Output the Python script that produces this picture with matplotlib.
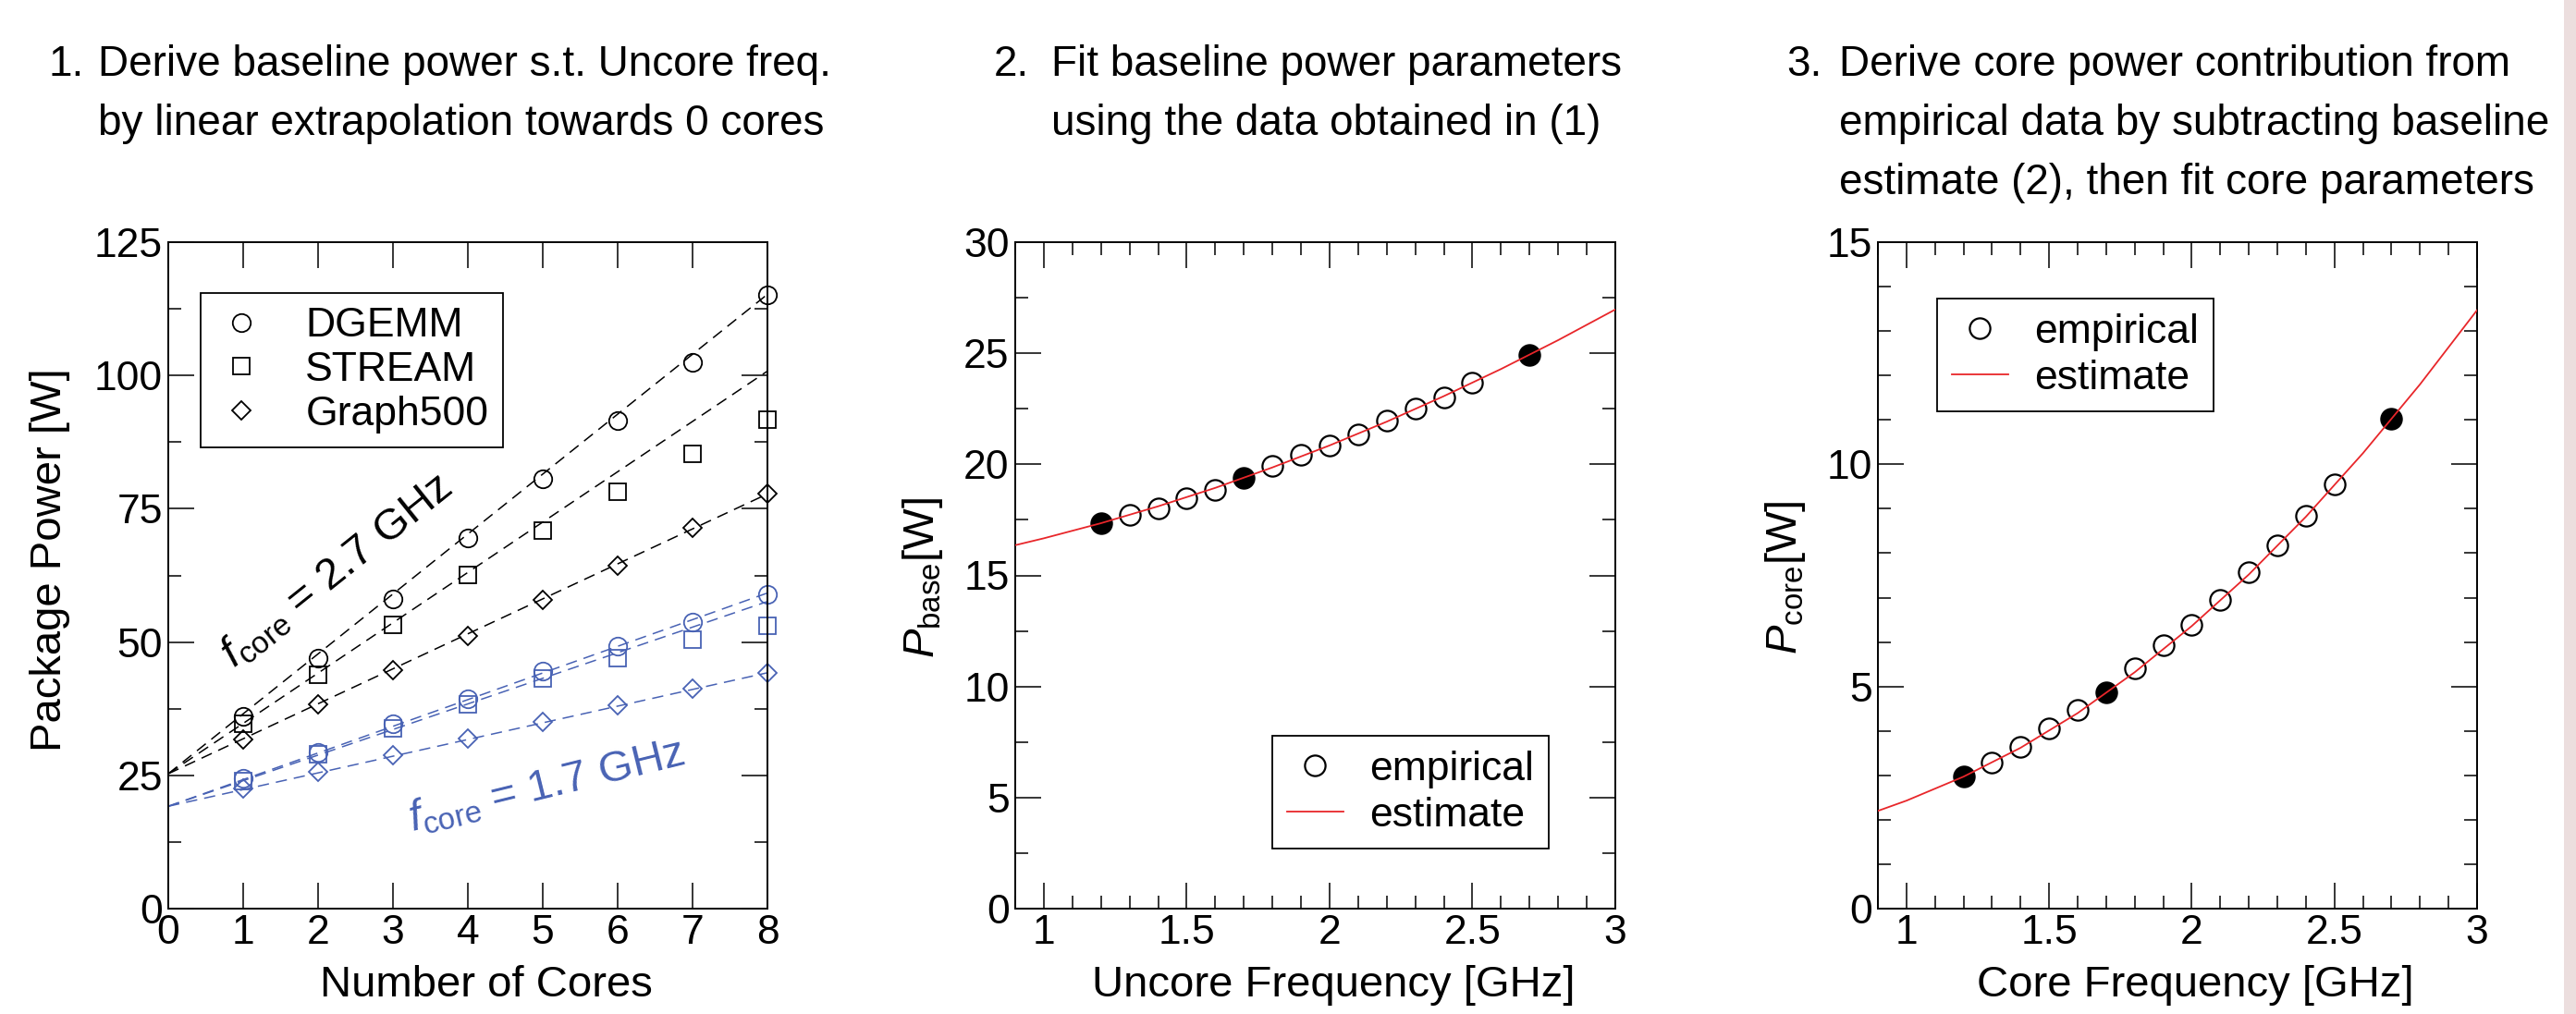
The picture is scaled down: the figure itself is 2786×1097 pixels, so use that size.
import matplotlib
matplotlib.use('Agg')
import matplotlib.pyplot as plt
from matplotlib.patches import FancyBboxPatch
from matplotlib.transforms import IdentityTransform
from matplotlib.ticker import MultipleLocator

W, H = 2786, 1097

# ---- panel 1: package power vs number of cores ----
cores = [1, 2, 3, 4, 5, 6, 7, 8]
dgemm_27 = [36.0, 47.0, 58.1, 69.6, 80.6, 91.5, 102.5, 115.2]
stream_27 = [34.6, 43.9, 53.3, 62.6, 70.9, 78.2, 85.3, 91.7]
graph_27 = [31.7, 38.4, 44.8, 51.1, 57.9, 64.3, 71.5, 77.8]
dgemm_17 = [24.5, 29.3, 34.6, 39.4, 44.5, 49.3, 53.8, 59.0]
stream_17 = [24.0, 29.0, 33.8, 38.4, 43.2, 47.0, 50.4, 53.0]
graph_17 = [22.6, 25.6, 28.8, 31.9, 35.0, 38.2, 41.3, 44.2]
# linear extrapolation towards 0 cores (intercept, slope per core)
fit_x = [0, 8]
fit_icpt_27 = 25.3
fit_slope_27 = [11.24, 9.44, 6.56]
fit_icpt_17 = 19.2
fit_slope_17 = [5.0, 4.8, 3.13]
bench_names = ['DGEMM', 'STREAM', 'Graph500']

# ---- panel 2: baseline power vs uncore frequency ----
unc_f = [1.3, 1.4, 1.5, 1.6, 1.8, 1.9, 2.0, 2.1, 2.2, 2.3, 2.4, 2.5]
p_base = [17.74, 18.02, 18.48, 18.85, 19.95, 20.41, 20.85, 21.34, 21.98, 22.49, 23.02, 23.66]
unc_f_sel = [1.2, 1.7, 2.7]
p_base_sel = [17.35, 19.38, 24.93]
base_est_f = [0.9, 1.0, 1.2, 1.4, 1.6, 1.8, 2.0, 2.2, 2.4, 2.6, 2.8, 3.0]
base_est_p = [16.36, 16.67, 17.35, 18.11, 18.94, 19.86, 20.85, 21.92, 23.07, 24.29, 25.59, 26.97]

# ---- panel 3: core power vs core frequency ----
core_f = [1.3, 1.4, 1.5, 1.6, 1.8, 1.9, 2.0, 2.1, 2.2, 2.3, 2.4, 2.5]
p_core = [3.28, 3.64, 4.06, 4.47, 5.41, 5.92, 6.38, 6.95, 7.58, 8.18, 8.85, 9.54]
core_f_sel = [1.2, 1.7, 2.7]
p_core_sel = [2.97, 4.87, 11.03]
core_est_f = [0.9, 1.0, 1.2, 1.4, 1.6, 1.8, 2.0, 2.2, 2.4, 2.6, 2.8, 3.0]
core_est_p = [2.2, 2.43, 2.97, 3.62, 4.40, 5.32, 6.36, 7.52, 8.82, 10.25, 11.8, 13.47]

freq_ticks = [1, 1.5, 2, 2.5, 3]
freq_labels = ['1', '1.5', '2', '2.5', '3']

titles = [
    ('1.', ['Derive baseline power s.t. Uncore freq.',
            'by linear extrapolation towards 0 cores']),
    ('2.', ['Fit baseline power parameters',
            'using the data obtained in (1)']),
    ('3.', ['Derive core power contribution from',
            'empirical data by subtracting baseline',
            'estimate (2), then fit core parameters']),
]
title_x = [(53, 106), (1075, 1137), (1932, 1989)]

plt.rcParams['font.family'] = ['Liberation Sans', 'DejaVu Sans']
plt.rcParams['mathtext.fontset'] = 'custom'
plt.rcParams['mathtext.rm'] = 'Liberation Sans'
plt.rcParams['mathtext.it'] = 'Liberation Sans:italic'
plt.rcParams['mathtext.bf'] = 'Liberation Sans:bold'

BLUE = '#4862b4'
RED = '#e8262a'
FS = 32       # tick labels / legends
LFS = 34      # axis labels
TFS = 33      # step titles

fig = plt.figure(figsize=(W / 100, H / 100), dpi=100, facecolor='#ecdede')
# white card with rounded corner on the right
fig.add_artist(FancyBboxPatch((-200, -40), 2773 + 200, H + 300,
                              boxstyle='round,pad=0,rounding_size=30',
                              transform=IdentityTransform(), facecolor='white',
                              edgecolor='none', zorder=-5))


def add_ax(x0, y0, x1, y1):
    return fig.add_axes([x0 / W, (H - y1) / H, (x1 - x0) / W, (y1 - y0) / H])


def style(ax):
    ax.tick_params(which='both', direction='in', top=True, right=True,
                   width=1.1, labelsize=FS, pad=4.5)
    ax.tick_params(which='major', length=20)
    ax.tick_params(which='minor', length=10)
    for s in ax.spines.values():
        s.set_linewidth(1.4)


def frame(lg):
    lg.get_frame().set_edgecolor('black')
    lg.get_frame().set_linewidth(1.3)


ax1 = add_ax(182, 262, 830, 983)
ax2 = add_ax(1098, 262, 1747, 983)
ax3 = add_ax(2031, 262, 2679, 983)

# panel 1
markers = [('o', 14), ('s', 12.5), ('D', 10.5)]
dash = (8, 5)
handles = []
for (m, ms), y27, y17, s27, s17, name in zip(markers, [dgemm_27, stream_27, graph_27],
                                            [dgemm_17, stream_17, graph_17],
                                            fit_slope_27, fit_slope_17, bench_names):
    ax1.plot(fit_x, [fit_icpt_27 + s27 * x for x in fit_x], color='black',
             lw=1.1, dashes=dash)
    ax1.plot(fit_x, [fit_icpt_17 + s17 * x for x in fit_x], color=BLUE,
             lw=1.1, dashes=dash)
    h, = ax1.plot(cores, y27, ls='none', marker=m, ms=ms, mfc='none', mec='black',
                  mew=1.3, label=name, clip_on=False)
    ax1.plot(cores, y17, ls='none', marker=m, ms=ms, mfc='none', mec=BLUE, mew=1.3,
             clip_on=False)
    handles.append(h)

ax1.set_xlim(0, 8)
ax1.set_ylim(0, 125)
ax1.set_xticks(range(0, 9))
ax1.set_yticks([0, 25, 50, 75, 100, 125])
ax1.yaxis.set_minor_locator(MultipleLocator(12.5))
style(ax1)
ax1.set_xlabel('Number of Cores', fontsize=LFS)
ax1.xaxis.set_label_coords(0.53, -0.085)
ax1.set_ylabel('Package Power [W]', fontsize=LFS)
ax1.yaxis.set_label_coords(-0.164, 0.524)
leg = ax1.legend(handles=handles, loc='upper left', bbox_to_anchor=(0.054, 0.924),
                 borderaxespad=0, fancybox=False, fontsize=FS,
                 handlelength=1.3, handletextpad=0.9, borderpad=0.35,
                 labelspacing=0.15, framealpha=1)
frame(leg)
ax1.text(2.25, 63.3, r'$f_{\mathrm{core}}$ = 2.7 GHz', fontsize=34, rotation=38.7,
         rotation_mode='anchor', ha='center', va='center', color='black')
ax1.text(5.05, 22.9, r'$f_{\mathrm{core}}$ = 1.7 GHz', fontsize=34, rotation=13.8,
         rotation_mode='anchor', ha='center', va='center', color=BLUE)

# panels 2 and 3
panel_cfg = [
    (ax2, unc_f, p_base, unc_f_sel, p_base_sel, base_est_f, base_est_p,
     30, 5, 2.5, 'Uncore Frequency [GHz]', r'$P_{\mathrm{base}}$[W]', -0.117,
     'lower right', (0.889, 0.090)),
    (ax3, core_f, p_core, core_f_sel, p_core_sel, core_est_f, core_est_p,
     15, 5, 1, 'Core Frequency [GHz]', r'$P_{\mathrm{core}}$[W]', -0.117,
     'upper left', (0.099, 0.915)),
]
for (ax, fx, fy, sx, sy, ex, ey, ylim, ymaj, ymin, xl, yl, lab_x,
     leg_loc, leg_anchor) in panel_cfg:
    h1, = ax.plot(fx, fy, ls='none', marker='o', ms=16, mfc='none', mec='black',
                  mew=1.6, label='empirical')
    ax.plot(sx, sy, ls='none', marker='o', ms=16, mfc='black', mec='black', mew=1.6)
    h2, = ax.plot(ex, ey, color=RED, lw=1.3, label='estimate', zorder=4)
    ax.set_xlim(0.9, 3)
    ax.set_ylim(0, ylim)
    ax.set_xticks(freq_ticks, labels=freq_labels)
    ax.xaxis.set_minor_locator(MultipleLocator(0.1))
    ax.yaxis.set_major_locator(MultipleLocator(ymaj))
    ax.yaxis.set_minor_locator(MultipleLocator(ymin))
    style(ax)
    ax.set_xlabel(xl, fontsize=LFS)
    ax.xaxis.set_label_coords(0.53, -0.085)
    ax.set_ylabel(yl, fontsize=LFS)
    ax.yaxis.set_label_coords(lab_x, 0.497)
    lg = ax.legend(handles=[h1, h2], loc=leg_loc, bbox_to_anchor=leg_anchor,
                   borderaxespad=0, fancybox=False, fontsize=FS,
                   handlelength=1.37, handletextpad=0.65, borderpad=0.35,
                   labelspacing=0.2, framealpha=1)
    frame(lg)

# step titles
for (num, lines), (nx, bx) in zip(titles, title_x):
    base = 82
    fig.text(nx / W, 1 - base / H, num, fontsize=TFS, ha='left', va='baseline')
    for i, line in enumerate(lines):
        fig.text(bx / W, 1 - (base + 64 * i) / H, line, fontsize=TFS,
                 ha='left', va='baseline')

fig.savefig('out.png', dpi=100, facecolor=fig.get_facecolor())
